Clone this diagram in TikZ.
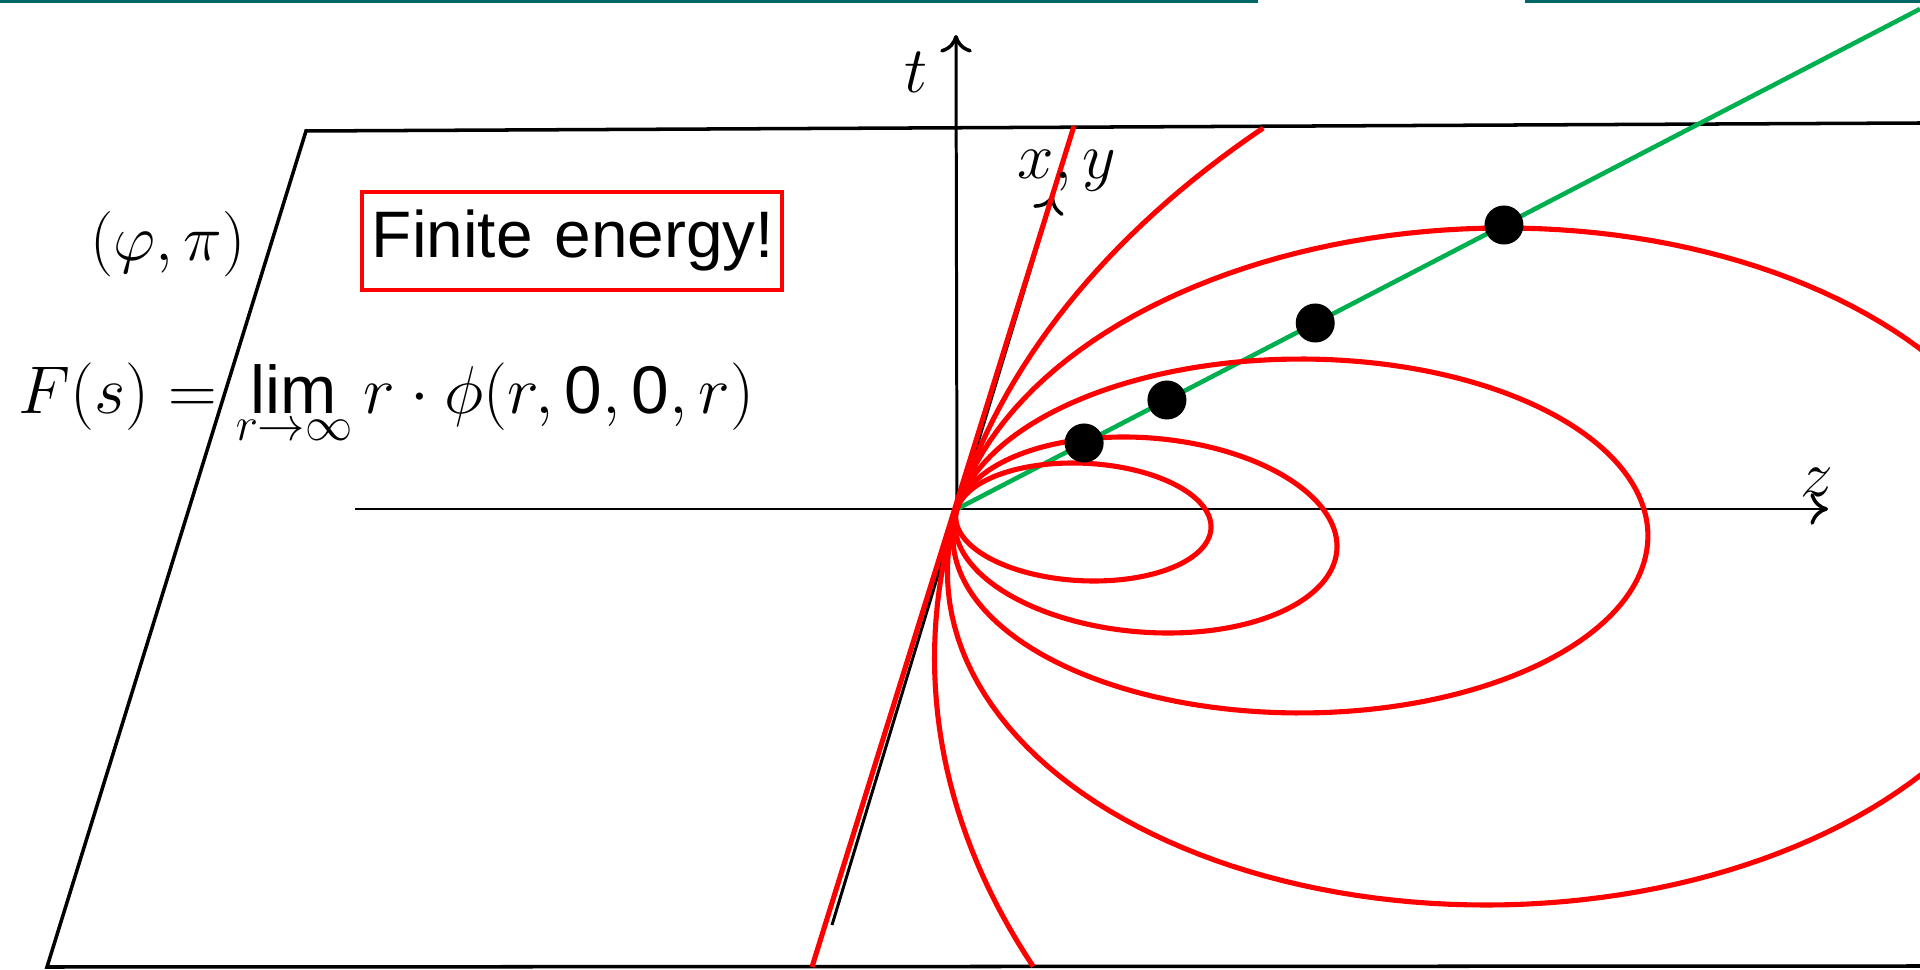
\RequirePackage{fix-cm}
\documentclass[tikz,border=0pt]{standalone}
\usepackage{fontspec}
\setsansfont{Liberation Sans}
\usetikzlibrary{arrows.meta}
\definecolor{rim}{RGB}{0,102,102}
\definecolor{lightgreen}{RGB}{0,176,80}

\begin{document}
\begin{tikzpicture}[x=0.01cm,y=0.01cm,font=\fontsize{18.6}{22}\selectfont,
  axis/.style={black,line width=0.85pt,-{To[length=5pt,width=9pt,line width=1pt]}},
  orbit/.style={red,line width=1.45pt},
  dot/.style={circle,fill=black,inner sep=0pt,minimum size=0.39cm}]
\useasboundingbox (0,0) rectangle (1920,969);
\coordinate (O) at (957,460);
\coordinate (T) at (956,934);
\coordinate (Z0) at (355,460);
\coordinate (Z) at (1828,460);
\coordinate (XB) at (832,44);
\coordinate (X) at (1053,774);
\coordinate (P1) at (306,838);
\coordinate (P2) at (1920,846);
\coordinate (P3) at (47,2);
\coordinate (P4) at (1920,3);
\coordinate (RB) at (812,2);
\coordinate (RT) at (1074,843);
\coordinate (G) at (1920,960);
\draw[rim,line width=1pt] (0,968)--(1258,968) (1525,968)--(1920,968);
\draw[line width=1pt] (P2)--(P1)--(P3)--(P4);
\draw[axis] (O)--(T);
\draw[axis] (Z0)--(Z);
\draw[axis] (XB)--(X);
\draw[lightgreen,line width=1.3pt] (O)--(G);
\path (O)--(G) coordinate[pos=0.132] (D1) coordinate[pos=0.218] (D2)
  coordinate[pos=0.372] (D3) coordinate[pos=0.568] (D4);
\draw[orbit] (RB)--(RT);
\draw[orbit] plot[domain=0:360,samples=181] ({1083.4-126.4*cos(\x)+17.6*sin(\x)},{447+13*cos(\x)+57.55*sin(\x)}) -- cycle;
\draw[orbit] plot[domain=0:360,samples=181] ({1145.9-188.9*cos(\x)+28.9*sin(\x)},{434+26*cos(\x)+94.5*sin(\x)}) -- cycle;
\draw[orbit] plot[domain=0:360,samples=181] ({1300.4-343.4*cos(\x)+53.4*sin(\x)},{433+27*cos(\x)+174.9*sin(\x)}) -- cycle;
\draw[orbit] plot[domain=0:360,samples=181] ({1495-538*cos(\x)+101.9*sin(\x)},{402.5+57.5*cos(\x)+333.6*sin(\x)}) -- cycle;
\draw[orbit] plot[domain=-34.2:32,samples=67] ({2157-1200*cos(\x)+233.6*sin(\x)},{300+160*cos(\x)+764.8*sin(\x)});
\node[dot] (dot1) at (D1) {};
\node[dot] (dot2) at (D2) {};
\node[dot] (dot3) at (D3) {};
\node[dot] (dot4) at (D4) {};
\node (tlabel) at (916,897) {$t$};
\node (xylabel) at (1067,798) {$x,y$};
\node (zlabel) at (1817,487) {$z$};
\node (phasespace) at (168,725) {$(\varphi,\pi)$};
\node[anchor=base west,inner sep=0pt,font=\fontsize{19.2}{23}\selectfont] (limit) at (18,555)
  {$F(s)=\mathop{\mbox{\sffamily lim}}\limits_{r\to\infty} r\cdot\phi(r,\mbox{\sffamily 0},\mbox{\sffamily 0},r)$};
\node[draw=red,line width=1.15pt,text width=4.0cm,align=left,inner xsep=0.1cm,
  minimum height=0.98cm,font=\sffamily\fontsize{18.7}{22}\selectfont] (finite) at (572,728) {\mbox{Finite energy!}};
\end{tikzpicture}
\end{document}
